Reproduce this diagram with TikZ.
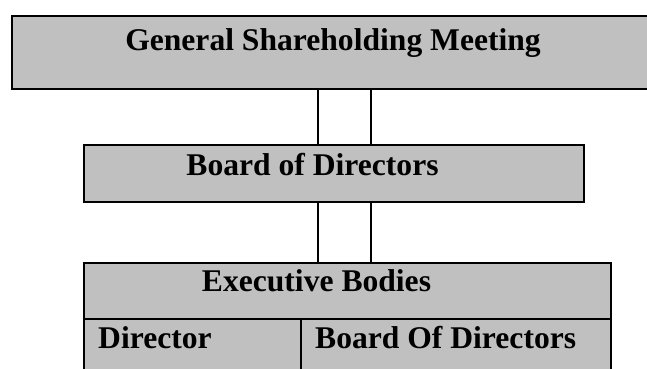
\documentclass[tikz,border=0pt]{standalone}
\usepackage{fontspec}
\setmainfont{Liberation Serif}
\definecolor{boxgray}{HTML}{C0C0C0}
\begin{document}
\begin{tikzpicture}[x=1pt,y=-1pt,
  box/.style={draw=black, fill=boxgray, line width=2.4pt, rectangle, inner sep=0pt, anchor=north west},
  conn/.style={draw=black, line width=2pt},
  lbl/.style={inner sep=0pt, font=\fontsize{31.6}{36}\selectfont\bfseries}]
\useasboundingbox (0,0) rectangle (647,368);
\clip (0,0) rectangle (647,368);
\fill[white] (0,0) rectangle (647,368);
% boxes
\node[box, minimum width=649pt, minimum height=73pt] (gsm) at (11,15) {};
\node[box, minimum width=500pt, minimum height=57pt] (bod) at (83,144) {};
\node[box, minimum width=527pt, minimum height=56pt] (exec) at (83,262) {};
\node[box, minimum width=217pt, minimum height=70pt] (dir) at (83,318) {};
\node[box, minimum width=310pt, minimum height=70pt] (bodx) at (300,318) {};
% connectors
\coordinate (xa) at (318,0);
\coordinate (xb) at (371,0);
\draw[conn] (gsm.south -| xa) -- (bod.north -| xa);
\draw[conn] (gsm.south -| xb) -- (bod.north -| xb);
\draw[conn] (bod.south -| xa) -- (exec.north -| xa);
\draw[conn] (bod.south -| xb) -- (exec.north -| xb);
% labels
\node[lbl, anchor=base] (tg) at (333,50) {General Shareholding Meeting};
\node[lbl, anchor=base] (tb) at (312.5,175) {Board of Directors};
\node[lbl, anchor=base] (te) at (316.5,291) {Executive Bodies};
\node[lbl, anchor=base west] (td) at (98,348) {Director};
\node[lbl, anchor=base west] (tbx) at (315,348) {Board Of Directors};
\end{tikzpicture}
\end{document}
